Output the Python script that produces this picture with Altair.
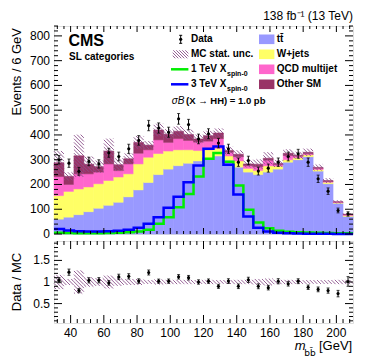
import math
import altair as alt
import pandas as pd

# ---------------- data ----------------
BIN_LO = list(range(30, 210, 6))          # 30 bins, 6 GeV wide, 30-210 GeV
BIN_W = 6
TTBAR = [60, 68, 78, 90, 104, 116, 128, 150, 178, 208, 240, 262, 276, 286, 295,
         302, 315, 298, 270, 250, 240, 250, 262, 290, 300, 312, 254, 203, 124, 71]
WJETS = [95, 104, 104, 100, 99, 100, 102, 93, 105, 102, 85, 73, 64, 54, 42,
         38, 30, 17, 25, 15, 16, 25, 12, 10, 8, 8, 6, 6, 3, 4]
QCD = [77, 28, 61, 53, 47, 67, 26, 40, 43, 30, 55, 35, 45, 38, 34,
       35, 40, 15, 17, 11, 16, 23, 6, 17, 6, 4, 5, 3, 2, 3]
OTHER = [56, 33, 73, 39, 22, 52, 24, 21, 44, 19, 40, 33, 30, 24, 13,
         22, 23, 7, 10, 7, 10, 8, 5, 9, 4, 6, 4, 4, 1, 2]
DATA = [300, 286, 253, 293, 283, 328, 313, 344, 378, 438, 428, 411, 465, 442, 384,
        405, 367, 344, 290, 297, 254, 266, 290, 313, 324, 290, 223, 173, 95, 81]
MC_UNC_REL = [0.165, 0.07, 0.27, 0.11, 0.09, 0.15, 0.09, 0.07, 0.07, 0.045, 0.06, 0.05, 0.05, 0.05, 0.045,
              0.05, 0.045, 0.045, 0.05, 0.05, 0.07, 0.08, 0.05, 0.05, 0.045, 0.045, 0.045, 0.045, 0.05, 0.05]
SIG_1TEV = [5, 4, 3, 3, 3, 4, 5, 7, 10, 17, 41, 68, 108, 162, 232,
            304, 327, 292, 196, 98, 46, 23, 13, 9, 7, 6, 5, 4, 3, 3]
SIG_3TEV = [20, 14, 11, 10, 10, 11, 13, 17, 25, 41, 68, 106, 150, 209, 277,
            344, 353, 280, 160, 71, 25, 10, 5, 3, 2, 1, 1, 1, 0, 0]

PROCS = ["ttbar", "wjets", "qcd", "other"]
PROC_COLORS = ["#9999ff", "#ffff66", "#ff66cc", "#993366"]

Y_MAJOR = list(range(0, 801, 100))
Y_MINOR = [v for v in range(0, 841, 20) if v % 100]
X_MAJOR = list(range(40, 201, 20))
X_MINOR = [v for v in range(32, 210, 4) if v % 20]
R_MAJOR = [0.5, 1.0, 1.5]
R_LABELS = ["0.5", "1", "1.5"]
R_MINOR = [round(0.1 * k, 1) for k in range(1, 20) if k % 5]

# ---------------- geometry of the panels ----------------
W, H, RH = 299, 208, 82
X_DOM = (30, 210)
Y_DOM = (0, 840)
R_DOM = (0.05, 1.95)
FONT = "Liberation Sans"
HATCH_COLOR = "#8a4f8a"

# ---------------- tables ----------------
rows = []
for i, lo in enumerate(BIN_LO):
    base = 0.0
    for p, arr in zip(PROCS, [TTBAR, WJETS, QCD, OTHER]):
        rows.append(dict(lo=lo, hi=lo + BIN_W, proc=p, y0=base, y1=base + arr[i]))
        base += arr[i]
stack_df = pd.DataFrame(rows)

tot = [a + b + c + d for a, b, c, d in zip(TTBAR, WJETS, QCD, OTHER)]
band_lo = [t * (1 - u) for t, u in zip(tot, MC_UNC_REL)]
band_hi = [t * (1 + u) for t, u in zip(tot, MC_UNC_REL)]
rband_lo = [1 - u for u in MC_UNC_REL]
rband_hi = [1 + u for u in MC_UNC_REL]

pts_df = pd.DataFrame(dict(
    c=[l + BIN_W / 2 for l in BIN_LO], n=DATA,
    lo=[n - math.sqrt(n) for n in DATA], hi=[n + math.sqrt(n) for n in DATA],
    r=[n / t for n, t in zip(DATA, tot)],
    rlo=[(n - math.sqrt(n)) / t for n, t in zip(DATA, tot)],
    rhi=[(n + math.sqrt(n)) / t for n, t in zip(DATA, tot)]))


def step_df(vals):
    xs_ = BIN_LO + [BIN_LO[-1] + BIN_W]
    return pd.DataFrame(dict(x=xs_, v=list(vals) + [vals[-1]]))


def hatch_segments(rects, ydom, height, spacing=3.6):
    """Diagonal hatch lines (top-left to bottom-right) clipped to each rectangle.
    rects are (x0, x1, y0, y1) in data units; output segments in data units."""
    kx = W / (X_DOM[1] - X_DOM[0])
    ky = height / (ydom[1] - ydom[0])
    segs = []
    for (x0, x1, y0, y1) in rects:
        px0, px1 = (x0 - X_DOM[0]) * kx, (x1 - X_DOM[0]) * kx
        py0, py1 = (y0 - ydom[0]) * ky, (y1 - ydom[0]) * ky   # upward pixels
        cmin, cmax = px0 + py0, px1 + py1
        k = math.ceil(cmin / spacing)
        while k * spacing <= cmax:
            c = k * spacing
            ps = max(px0, c - py1)
            pe = min(px1, c - py0)
            if pe - ps > 0.05:
                segs.append(dict(
                    xa=X_DOM[0] + ps / kx, ya=ydom[0] + (c - ps) / ky,
                    xb=X_DOM[0] + pe / kx, yb=ydom[0] + (c - pe) / ky))
            k += 1
    return pd.DataFrame(segs)


xs = alt.Scale(domain=list(X_DOM), nice=False, zero=False)
ys = alt.Scale(domain=list(Y_DOM), nice=False, zero=False)
rs = alt.Scale(domain=list(R_DOM), nice=False, zero=False)


def X(f, scale=xs):
    return alt.X(f, type="quantitative", scale=scale, axis=None)


def Y(f, scale):
    return alt.Y(f, type="quantitative", scale=scale, axis=None)


def hatch_layer(df, scale, width=0.9):
    return alt.Chart(df).mark_rule(color=HATCH_COLOR, strokeWidth=width).encode(
        x=X("xa"), y=Y("ya", scale), x2="xb", y2="yb")


def text(s, x, y, size=10, bold=False, italic=False, align="left",
         baseline="middle", angle=0, font=FONT, color="black"):
    kw = dict(fontSize=size, font=font, align=align, baseline=baseline, color=color)
    if bold:
        kw["fontWeight"] = "bold"
    if italic:
        kw["fontStyle"] = "italic"
    if angle:
        kw["angle"] = angle
    df = pd.DataFrame({"t": [s]})
    return alt.Chart(df).mark_text(**kw).encode(x=alt.value(x), y=alt.value(y), text="t:N")


def ylabels(vals, labs, scale):
    df = pd.DataFrame({"v": vals, "t": labs})
    return alt.Chart(df).mark_text(align="right", baseline="middle", fontSize=12, font=FONT,
                                   color="black").encode(
        y=Y("v", scale), x=alt.value(-4), text="t:N")


def xlabels(vals, height):
    df = pd.DataFrame({"v": vals, "t": [str(v) for v in vals]})
    return alt.Chart(df).mark_text(align="center", baseline="middle", fontSize=12, font=FONT,
                                   color="black").encode(
        x=X("v"), y=alt.value(height + 9.5), text="t:N")


def yticks(vals, length, scale, width):
    df = pd.DataFrame({"v": vals})
    left = alt.Chart(df).mark_rule(color="black", strokeWidth=1).encode(
        y=Y("v", scale), x=alt.value(0), x2=alt.value(length))
    right = alt.Chart(df).mark_rule(color="black", strokeWidth=1).encode(
        y=Y("v", scale), x=alt.value(width - length), x2=alt.value(width))
    return [left, right]


def xticks(vals, length, height):
    df = pd.DataFrame({"v": vals})
    bot = alt.Chart(df).mark_rule(color="black", strokeWidth=1).encode(
        x=X("v"), y=alt.value(height - length), y2=alt.value(height))
    top = alt.Chart(df).mark_rule(color="black", strokeWidth=1).encode(
        x=X("v"), y=alt.value(0), y2=alt.value(length))
    return [bot, top]


def box(x1, x2, y1, y2, fill):
    df = pd.DataFrame({"a": [0]})
    return alt.Chart(df).mark_rect(fill=fill).encode(
        x=alt.value(x1), x2=alt.value(x2), y=alt.value(y1), y2=alt.value(y2))


def hseg(x1, x2, y, color, width=1.0):
    df = pd.DataFrame({"a": [0]})
    return alt.Chart(df).mark_rule(color=color, strokeWidth=width).encode(
        x=alt.value(x1), x2=alt.value(x2), y=alt.value(y))


def px_to_data(px, py_screen, height, ydom):
    """legend box corners (pixels) -> data units of the main panel"""
    x = X_DOM[0] + px * (X_DOM[1] - X_DOM[0]) / W
    y = ydom[0] + (height - py_screen) * (ydom[1] - ydom[0]) / height
    return x, y


# ---------------- main panel ----------------
stack = alt.Chart(stack_df).mark_rect(strokeWidth=0.5).encode(
    x=X("lo"), x2="hi",
    y=Y("y0", ys), y2="y1",
    fill=alt.Fill("proc:N", scale=alt.Scale(domain=PROCS, range=PROC_COLORS), legend=None),
    stroke=alt.Stroke("proc:N", scale=alt.Scale(domain=PROCS, range=PROC_COLORS), legend=None),
)
main_rects = [(lo, lo + BIN_W, a, b) for lo, a, b in zip(BIN_LO, band_lo, band_hi)]
band = hatch_layer(hatch_segments(main_rects, Y_DOM, H), ys)
sig1 = alt.Chart(step_df(SIG_1TEV)).mark_line(
    interpolate="step-after", color="#00ee00", strokeWidth=2.5).encode(x=X("x"), y=Y("v", ys))
sig3 = alt.Chart(step_df(SIG_3TEV)).mark_line(
    interpolate="step-after", color="#0000ff", strokeWidth=2.5).encode(x=X("x"), y=Y("v", ys))
err = alt.Chart(pts_df).mark_rule(color="black", strokeWidth=1).encode(x=X("c"), y=Y("lo", ys), y2="hi")
capt = alt.Chart(pts_df).mark_tick(orient="horizontal", size=3, thickness=1, color="black").encode(
    x=X("c"), y=Y("hi", ys))
capb = alt.Chart(pts_df).mark_tick(orient="horizontal", size=3, thickness=1, color="black").encode(
    x=X("c"), y=Y("lo", ys))
pts = alt.Chart(pts_df).mark_point(filled=True, size=10, color="black", opacity=1).encode(
    x=X("c"), y=Y("n", ys))

# legend (manual, ROOT style)
LX2 = 205.0
rows_y = [13.3, 28.3, 43.3, 58.3]
leg = []
leg.append(alt.Chart(pd.DataFrame({"a": [0]})).mark_rule(color="black").encode(
    x=alt.value(126.7), y=alt.value(9.3), y2=alt.value(17.3)))
leg.append(hseg(125.2, 128.2, 9.3, "black"))
leg.append(hseg(125.2, 128.2, 17.3, "black"))
leg.append(alt.Chart(pd.DataFrame({"a": [0]})).mark_point(filled=True, size=10, color="black", opacity=1).encode(
    x=alt.value(126.7), y=alt.value(13.3)))
leg.append(text("Data", 137, rows_y[0], bold=True))
lx0, ly0 = px_to_data(118.7, 32.3, H, Y_DOM)
lx1, ly1 = px_to_data(134.4, 24.3, H, Y_DOM)
leg.append(hatch_layer(hatch_segments([(lx0, lx1, ly0, ly1)], Y_DOM, H, spacing=3.0), ys))
leg.append(text("MC stat. unc.", 137, rows_y[1], bold=True))
leg.append(hseg(117, 134.4, rows_y[2], "#00ee00", 2.5))
leg.append(text("1 TeV X", 137, rows_y[2], bold=True))
leg.append(text("spin-0", 173, rows_y[2] + 4.5, size=7, bold=True))
leg.append(hseg(117, 134.4, rows_y[3], "#0000ff", 2.5))
leg.append(text("3 TeV X", 137, rows_y[3], bold=True))
leg.append(text("spin-0", 173, rows_y[3] + 4.5, size=7, bold=True))
for yv, col, lab in zip(rows_y, PROC_COLORS, ["tt\u0304", "W+jets", "QCD multijet", "Other SM"]):
    leg.append(box(LX2, 220.4, yv - 4.8, yv + 4.8, col))
    leg.append(text(lab, 222.7, yv, bold=True))
leg.append(text("\u03c3B", 117.7, 75, size=10, italic=True))
leg.append(text("(X \u2192 HH) = 1.0 pb", 132, 75, size=9.5, bold=True))

labels_main = [
    text("CMS", 14.4, 14.5, size=16, bold=True),
    text("SL categories", 15, 31, size=10, bold=True),
    text("138 fb\u207b\u00b9 (13 TeV)", W, -6.5, size=12, align="right", baseline="alphabetic"),
    text("Events / 6 GeV", -37.5, 2, size=13, align="right", angle=270),
    ylabels(Y_MAJOR, [str(v) for v in Y_MAJOR], ys),
]
anchor = alt.Chart(pd.DataFrame({"a": [0]})).mark_point(opacity=0, size=1).encode(
    x=alt.value(-44.3), y=alt.value(-17))

main_layers = ([stack, band, sig1, sig3, err, capt, capb, pts]
               + yticks(Y_MAJOR, 8, ys, W) + yticks(Y_MINOR, 4, ys, W)
               + xticks(X_MAJOR, 6, H) + xticks(X_MINOR, 3, H)
               + leg + labels_main + [anchor])
main = alt.layer(*main_layers).properties(width=W, height=H)

# ---------------- ratio panel ----------------
ratio_rects = [(lo, lo + BIN_W, a, b) for lo, a, b in zip(BIN_LO, rband_lo, rband_hi)]
rband = hatch_layer(hatch_segments(ratio_rects, R_DOM, RH), rs)
rerr = alt.Chart(pts_df).mark_rule(color="black", strokeWidth=1).encode(x=X("c"), y=Y("rlo", rs), y2="rhi")
rcapt = alt.Chart(pts_df).mark_tick(orient="horizontal", size=3, thickness=1, color="black").encode(
    x=X("c"), y=Y("rhi", rs))
rcapb = alt.Chart(pts_df).mark_tick(orient="horizontal", size=3, thickness=1, color="black").encode(
    x=X("c"), y=Y("rlo", rs))
rpts = alt.Chart(pts_df).mark_point(filled=True, size=10, color="black", opacity=1).encode(
    x=X("c"), y=Y("r", rs))
labels_ratio = [
    text("Data / MC", -37.5, RH / 2, size=13, align="center", angle=270),
    text("m", 240.7, 105, size=13, italic=True),
    text("bb\u0304", 250.2, 112, size=9, font="DejaVu Sans"),
    text("[GeV]", 298.2, 105, size=13, align="right"),
    ylabels(R_MAJOR, R_LABELS, rs),
    xlabels(X_MAJOR, RH),
]
ratio_layers = ([rband, rerr, rcapt, rcapb, rpts]
                + yticks(R_MAJOR, 8, rs, W) + yticks(R_MINOR, 4, rs, W)
                + xticks(X_MAJOR, 8, RH) + xticks(X_MINOR, 4, RH)
                + labels_ratio)
ratio = alt.layer(*ratio_layers).properties(width=W, height=RH)

chart = alt.vconcat(main, ratio, spacing=7, bounds="flush").properties(
    padding={"left": 0, "top": 0, "right": 0, "bottom": 0}
).configure_view(stroke="black", strokeWidth=1).configure(background="white")

chart.save("out.html", embed_options={"renderer": "svg", "actions": False})
